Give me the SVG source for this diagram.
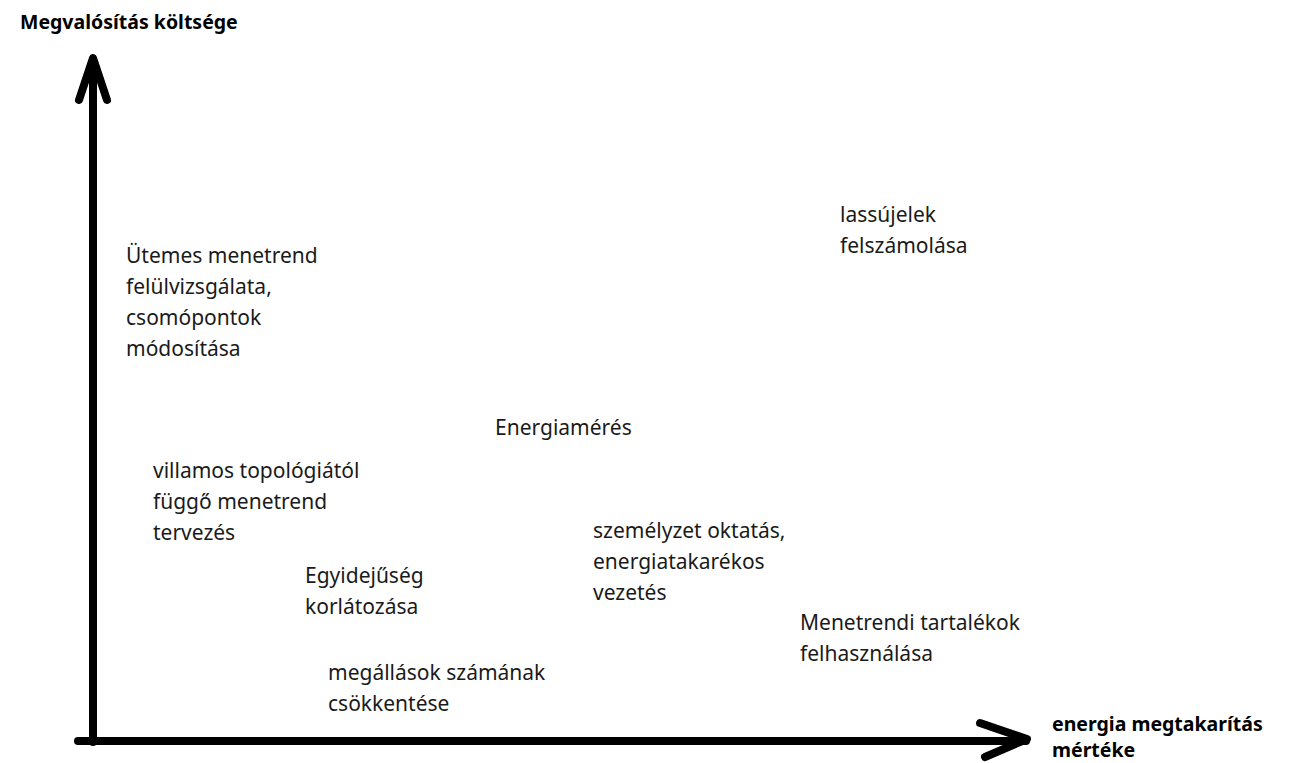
<svg xmlns="http://www.w3.org/2000/svg" width="1289" height="763" viewBox="0 0 1289 763">
<style>
text{font-family:"Noto Sans","Open Sans",sans-serif;font-size:21px;fill:#1a1a1a}
.b{font-weight:bold;font-size:19.5px;fill:#000}
.ax{stroke:#000;stroke-width:8;stroke-linecap:round;stroke-linejoin:round;fill:none}
</style>
<rect width="1289" height="763" fill="#fff"/>
<g id="axes">
<path class="ax" d="M93,60 V742"/>
<path class="ax" d="M79,100 L93,58 L107,100"/>
<path class="ax" d="M78,741 H1026"/>
<path class="ax" d="M980,723 L1027,739 L985,757"/>
</g>
<g id="y-label"><text class="b" x="20" y="29">Megvalósítás költsége</text></g>
<g id="x-label"><text class="b" x="1052" y="731">energia megtakarítás</text><text class="b" x="1052" y="757">mértéke</text></g>
<g id="n-lassujelek"><text x="840" y="222">lassújelek</text><text x="840" y="253">felszámolása</text></g>
<g id="n-utemes"><text x="126" y="263">Ütemes menetrend</text><text x="126" y="294">felülvizsgálata,</text><text x="126" y="325">csomópontok</text><text x="126" y="356">módosítása</text></g>
<g id="n-energiameres"><text x="495" y="435">Energiamérés</text></g>
<g id="n-villamos"><text x="153" y="478">villamos topológiától</text><text x="153" y="509">függő menetrend</text><text x="153" y="540">tervezés</text></g>
<g id="n-szemelyzet"><text x="593" y="538">személyzet oktatás,</text><text x="593" y="569">energiatakarékos</text><text x="593" y="600">vezetés</text></g>
<g id="n-egyidejuseg"><text x="305" y="583">Egyidejűség</text><text x="305" y="614">korlátozása</text></g>
<g id="n-menetrendi"><text x="800" y="630">Menetrendi tartalékok</text><text x="800" y="661">felhasználása</text></g>
<g id="n-megallasok"><text x="328" y="680">megállások számának</text><text x="328" y="711">csökkentése</text></g>
</svg>
